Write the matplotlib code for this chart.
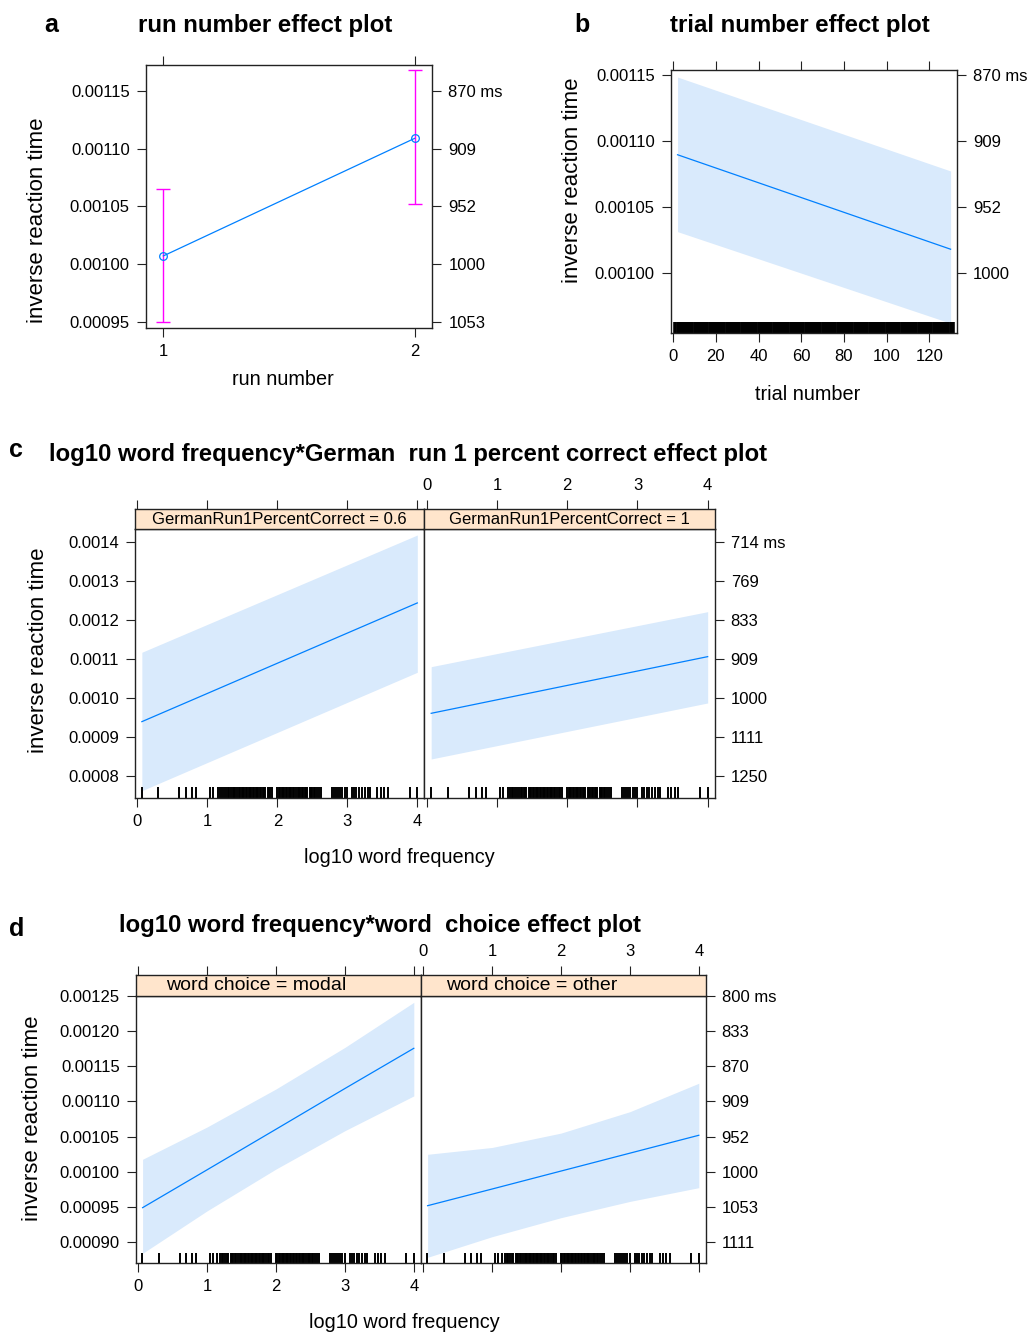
import matplotlib
matplotlib.use('Agg')
import matplotlib.pyplot as plt

plt.rcParams['font.family'] = ['Liberation Sans', 'DejaVu Sans']

##### values

## a: run number
run_x = [1, 2]
run_fit = [0.001007, 0.001109]
run_lower = [0.000950, 0.001052]
run_upper = [0.001065, 0.001168]

## b: trial number
trial_x = [2, 130]
trial_fit = [0.0010897, 0.0010182]
trial_lower = [0.0010315, 0.0009622]
trial_upper = [0.0011485, 0.0010774]
trial_rug = list(range(1, 132))   # every trial shows up in the rug

## c: word frequency x German run 1 percent correct
freq_x = [0.063, 1, 2, 3, 4]
c06_fit = [0.0009386, 0.0010110, 0.0010884, 0.0011657, 0.0012430]
c06_lower = [0.0007616, 0.0008339, 0.0009110, 0.0009881, 0.0010652]
c06_upper = [0.0011165, 0.0011881, 0.0012644, 0.0013408, 0.0014172]
c1_fit = [0.0009600, 0.0009946, 0.0010315, 0.0010684, 0.0011053]
c1_lower = [0.0008429, 0.0008771, 0.0009136, 0.0009500, 0.0009865]
c1_upper = [0.0010796, 0.0011132, 0.0011490, 0.0011848, 0.0012206]

## d: word frequency x word choice
modal_fit = [0.0009490, 0.0010028, 0.0010604, 0.0011182, 0.0011753]
modal_lower = [0.0008842, 0.0009445, 0.0010039, 0.0010583, 0.0011077]
modal_upper = [0.0010177, 0.0010636, 0.0011176, 0.0011766, 0.0012406]
other_fit = [0.0009518, 0.0009755, 0.0010010, 0.0010264, 0.0010518]
other_lower = [0.0008785, 0.0009078, 0.0009348, 0.0009579, 0.0009774]
other_upper = [0.0010248, 0.0010345, 0.0010549, 0.0010853, 0.0011257]

## log10 word frequency of the items (rug)
freq_rug = [0.06, 0.30, 0.60, 0.70, 0.78, 0.84, 1.04, 1.08, 1.15, 1.18, 1.21,
            1.23, 1.26, 1.29, 1.31, 1.34, 1.36, 1.38, 1.40, 1.42, 1.45, 1.47,
            1.49, 1.51, 1.53, 1.55, 1.57, 1.59, 1.61, 1.63, 1.65, 1.67, 1.69,
            1.71, 1.73, 1.75, 1.77, 1.79, 1.81, 1.83, 1.86, 1.88, 1.90, 1.92,
            2.00, 2.02, 2.04, 2.06, 2.08, 2.10, 2.12, 2.14, 2.16, 2.18, 2.20,
            2.22, 2.24, 2.26, 2.29, 2.31, 2.33, 2.35, 2.37, 2.39, 2.41, 2.43,
            2.46, 2.48, 2.50, 2.52, 2.54, 2.57, 2.60, 2.63, 2.78, 2.81, 2.84,
            2.87, 2.90, 2.93, 2.96, 3.00, 3.07, 3.10, 3.13, 3.17, 3.21, 3.25,
            3.29, 3.32, 3.43, 3.48, 3.53, 3.58, 3.89, 4.00]

## tick values and labels
a_yticks = [0.00095, 0.00100, 0.00105, 0.00110, 0.00115]
a_ms = ['1053', '1000', '952', '909', '870 ms']
b_yticks = [0.00100, 0.00105, 0.00110, 0.00115]
b_ms = ['1000', '952', '909', '870 ms']
b_xticks = [0, 20, 40, 60, 80, 100, 120]
c_yticks = [0.0008, 0.0009, 0.0010, 0.0011, 0.0012, 0.0013, 0.0014]
c_ms = ['1250', '1111', '1000', '909', '833', '769', '714 ms']
d_yticks = [0.00090, 0.00095, 0.00100, 0.00105, 0.00110, 0.00115, 0.00120, 0.00125]
d_ms = ['1111', '1053', '1000', '952', '909', '870', '833', '800 ms']
freq_ticks = [0, 1, 2, 3, 4]

LINE = '#0080ff'
BAND = '#d9eafc'
STRIP = '#ffe5cc'
FRAME = '#222222'

W, H = 1032, 1333
def rect(l, t, r, b):
    return [l / W, 1 - b / H, (r - l) / W, (b - t) / H]

fig = plt.figure(figsize=(W / 100, H / 100), dpi=100)


def style(ax):
    for s in ax.spines.values():
        s.set_color(FRAME)
        s.set_linewidth(1)
    ax.tick_params(direction='out', length=6.5, width=0.8, labelsize=12,
                   pad=5, color=FRAME)


def right_ms(ax, ticks, labels):
    sec = ax.secondary_yaxis('right')
    sec.set_yticks(ticks)
    sec.set_yticklabels(labels)
    sec.spines['right'].set_visible(False)
    sec.tick_params(direction='out', length=6.5, width=0.8, labelsize=12,
                    pad=5, color=FRAME)


def rug(ax, vals, h, lw):
    ax.vlines(vals, 0, h, transform=ax.get_xaxis_transform(),
              color='black', lw=lw)


def strip(l, t, r, b, xlim, text, size, labels, tx=None):
    s = fig.add_axes(rect(l, t, r, b))
    s.set_facecolor(STRIP)
    s.set_xlim(xlim)
    s.set_ylim(0, 1)
    s.set_yticks([])
    s.xaxis.tick_top()
    s.set_xticks(freq_ticks)
    if not labels:
        s.set_xticklabels([])
    style(s)
    if tx is None:
        s.text(0.5, 0.45, text, transform=s.transAxes, ha='center',
               va='center', fontsize=size)
    else:
        fig.text(tx / W, 1 - (t + b) / 2 / H, text, ha='center',
                 va='center', fontsize=size)
    return s


##### a: run number effect plot
ax = fig.add_axes(rect(145.7, 65, 432.3, 328))
ax.errorbar(run_x, run_fit, yerr=[[f - l for f, l in zip(run_fit, run_lower)],
                                  [u - f for f, u in zip(run_fit, run_upper)]],
            fmt='none', ecolor='#ff00ff', elinewidth=1, capsize=5, capthick=1)
ax.plot(run_x, run_fit, color=LINE, lw=0.9, marker='o', ms=5.5, mfc='none',
        mec=LINE, mew=0.9)
ax.set_xlim(0.93, 2.07)
ax.set_ylim(0.0009445, 0.0011726)
ax.set_xticks(run_x)
ax.set_yticks(a_yticks)
ax.set_yticklabels(['%.5f' % v for v in a_yticks])
style(ax)
ax.tick_params(top=True, labeltop=False)
right_ms(ax, a_yticks, a_ms)
fig.text(51 / W, 1 - 31.7 / H, 'a', fontsize=18, fontweight='bold',
         ha='center', va='baseline')
fig.text(265 / W, 1 - 31.7 / H, 'run number effect plot', fontsize=17.3,
         fontweight='bold', ha='center', va='baseline')
fig.text(38 / W, 1 - 220 / H, 'inverse reaction time', fontsize=16,
         rotation=90, ha='center', va='center')
fig.text(282.5 / W, 1 - 385 / H, 'run number', fontsize=14.3,
         ha='center', va='baseline')


##### b: trial number effect plot
ax = fig.add_axes(rect(670.7, 70.3, 957, 333))
ax.fill_between(trial_x, trial_lower, trial_upper, color=BAND, lw=0)
ax.plot(trial_x, trial_fit, color=LINE, lw=0.9)
rug(ax, trial_rug, 0.04, 2.6)
ax.set_xlim(-1.2, 133)
ax.set_ylim(0.0009548, 0.0011536)
ax.set_xticks(b_xticks)
ax.set_yticks(b_yticks)
ax.set_yticklabels(['%.5f' % v for v in b_yticks])
style(ax)
ax.tick_params(top=True, labeltop=False)
right_ms(ax, b_yticks, b_ms)
fig.text(581.7 / W, 1 - 32 / H, 'b', fontsize=18, fontweight='bold',
         ha='center', va='baseline')
fig.text(799.7 / W, 1 - 32 / H, 'trial number effect plot', fontsize=17.3,
         fontweight='bold', ha='center', va='baseline')
fig.text(572 / W, 1 - 180.3 / H, 'inverse reaction time', fontsize=16,
         rotation=90, ha='center', va='center')
fig.text(807.5 / W, 1 - 400 / H, 'trial number', fontsize=14.3,
         ha='center', va='baseline')


##### c: frequency * German run 1 percent correct
c_xlim = (-0.035, 4.1)
c_ylim = (0.0007436, 0.0014326)
panels_c = [(135, 424.3, c06_fit, c06_lower, c06_upper,
             'GermanRun1PercentCorrect = 0.6'),
            (424.3, 714.7, c1_fit, c1_lower, c1_upper,
             'GermanRun1PercentCorrect = 1')]
for i, (l, r, fit, lo, up, lab) in enumerate(panels_c):
    ax = fig.add_axes(rect(l, 529, r, 797.7))
    ax.fill_between(freq_x, lo, up, color=BAND, lw=0)
    ax.plot(freq_x, fit, color=LINE, lw=0.9)
    rug(ax, freq_rug, 0.041, 1.4)
    ax.set_xlim(c_xlim)
    ax.set_ylim(c_ylim)
    ax.set_xticks(freq_ticks)
    style(ax)
    if i == 0:
        ax.set_yticks(c_yticks)
        ax.set_yticklabels(['%.4f' % v for v in c_yticks])
    else:
        ax.set_yticks([])
        ax.set_xticklabels([])
        right_ms(ax, c_yticks, c_ms)
    strip(l, 508.7, r, 529, c_xlim, lab, 12, i == 1)

fig.text(16.3 / W, 1 - 456.7 / H, 'c', fontsize=18, fontweight='bold',
         ha='center', va='baseline')
fig.text(408 / W, 1 - 460.7 / H,
         'log10 word frequency*German  run 1 percent correct effect plot',
         fontsize=17.2, fontweight='bold', ha='center', va='baseline')
fig.text(38.3 / W, 1 - 650 / H, 'inverse reaction time', fontsize=16,
         rotation=90, ha='center', va='center')
fig.text(399.7 / W, 1 - 862.7 / H, 'log10 word frequency', fontsize=14.3,
         ha='center', va='baseline')


##### d: frequency * word choice
d_xlim = (-0.037, 4.1)
d_ylim = (0.000870, 0.00125)
panels_d = [(135.7, 420.7, modal_fit, modal_lower, modal_upper,
             'word choice = modal', 256.5),
            (420.7, 705.7, other_fit, other_lower, other_upper,
             'word choice = other', 531.7)]
for i, (l, r, fit, lo, up, lab, tx) in enumerate(panels_d):
    ax = fig.add_axes(rect(l, 995.7, r, 1263.3))
    ax.fill_between(freq_x, lo, up, color=BAND, lw=0)
    ax.plot(freq_x, fit, color=LINE, lw=0.9)
    rug(ax, freq_rug, 0.038, 1.4)
    ax.set_xlim(d_xlim)
    ax.set_ylim(d_ylim)
    ax.set_xticks(freq_ticks)
    style(ax)
    if i == 0:
        ax.set_yticks(d_yticks)
        ax.set_yticklabels(['%.5f' % v for v in d_yticks])
    else:
        ax.set_yticks([])
        ax.set_xticklabels([])
        right_ms(ax, d_yticks, d_ms)
    strip(l, 975.3, r, 995.7, d_xlim, lab, 14, i == 1, tx)

fig.text(16.7 / W, 1 - 936 / H, 'd', fontsize=18, fontweight='bold',
         ha='center', va='baseline')
fig.text(380 / W, 1 - 932.3 / H,
         'log10 word frequency*word  choice effect plot',
         fontsize=17.2, fontweight='bold', ha='center', va='baseline')
fig.text(32.5 / W, 1 - 1118 / H, 'inverse reaction time', fontsize=16,
         rotation=90, ha='center', va='center')
fig.text(404.7 / W, 1 - 1328.3 / H, 'log10 word frequency', fontsize=14.3,
         ha='center', va='baseline')

fig.savefig('out.png', dpi=100)
